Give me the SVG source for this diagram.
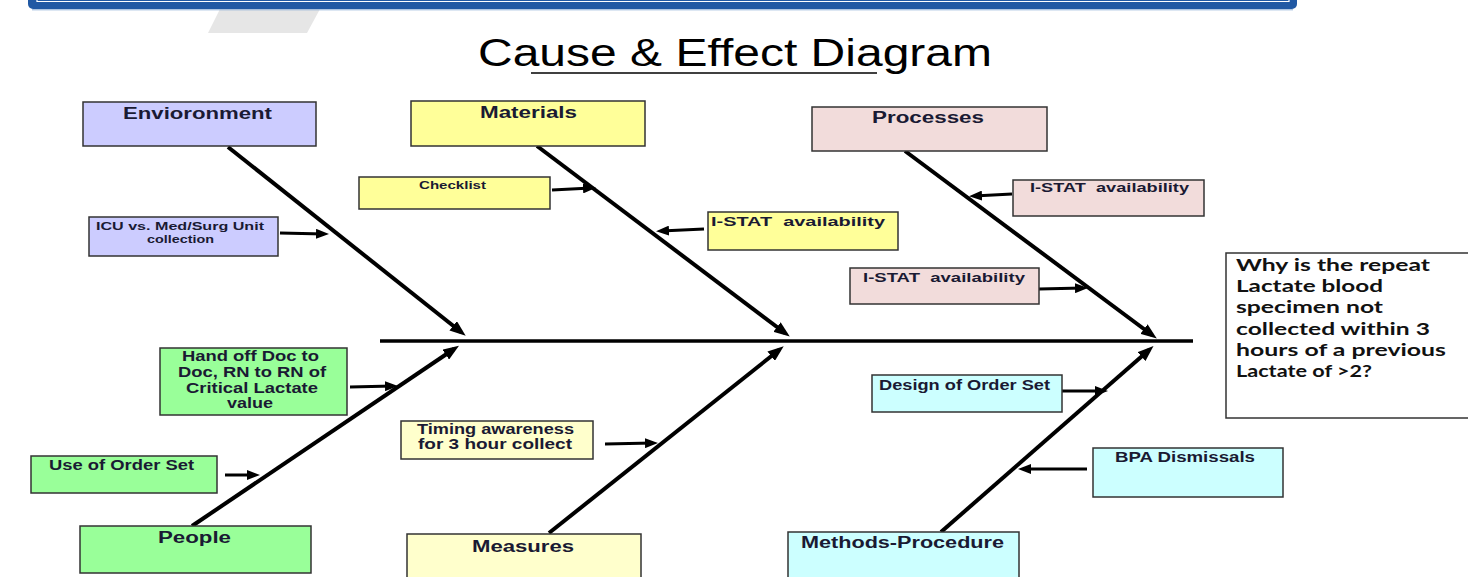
<svg xmlns="http://www.w3.org/2000/svg" width="1468" height="577" viewBox="0 0 1468 577">
<style>
  .box{stroke:#333;stroke-width:1.5}
  .env{fill:#ccccff}
  .mat{fill:#ffff99}
  .pro{fill:#f2dcdb}
  .peo{fill:#99ff99}
  .mea{fill:#ffffcc}
  .met{fill:#ccffff}
  .lbl{font-family:"Liberation Sans",Arial,sans-serif;font-weight:bold;fill:#1a1a33}
  .eff{font-family:Lato,"Liberation Sans",sans-serif;font-weight:bold;fill:#111;font-size:17px}
  .main{stroke:#000;stroke-width:4;fill:none;marker-end:url(#mh)}
  .sub{stroke:#000;stroke-width:3;fill:none;marker-end:url(#sh)}
</style>
<defs>
  <marker id="mh" markerUnits="userSpaceOnUse" markerWidth="16" markerHeight="12" refX="10" refY="6" orient="auto">
    <path d="M0,0 L16,6 L0,12 z" fill="#000"/>
  </marker>
  <marker id="sh" markerUnits="userSpaceOnUse" markerWidth="13" markerHeight="10" refX="8" refY="5" orient="auto">
    <path d="M0,0 L13,5 L0,10 z" fill="#000"/>
  </marker>
</defs>
<rect width="1468" height="577" fill="#fff"/>
<!-- banner -->
<polygon points="220,9 320,9 307,33 208,33" fill="#e6e6e6"/>
<rect x="28" y="-12" width="1269" height="21" rx="5" fill="#2159a4"/>
<path d="M37,-2 V1.5 H1289 V-2" fill="none" stroke="#fff" stroke-width="1.2"/>
<line x1="32" y1="9.8" x2="1293" y2="9.8" stroke="#8eaed6" stroke-width="1"/>
<!-- title -->
<text x="478" y="66" font-family="Liberation Sans,Arial,sans-serif" font-size="38" fill="#000" textLength="514" lengthAdjust="spacingAndGlyphs">Cause &amp; Effect Diagram</text>
<line x1="531" y1="73" x2="877" y2="73" stroke="#000" stroke-width="1.5"/>

<g id="connectors">
  <line x1="380" y1="341" x2="1193" y2="341" stroke="#000" stroke-width="3.5"/>
  <line class="main" x1="228" y1="147" x2="461" y2="332"/>
  <line class="main" x1="537" y1="146" x2="785" y2="333"/>
  <line class="main" x1="905" y1="151" x2="1152" y2="335"/>
  <line class="main" x1="192" y1="526" x2="454" y2="349"/>
  <line class="main" x1="549" y1="533" x2="779" y2="350"/>
  <line class="main" x1="941" y1="532" x2="1149" y2="350"/>
  <line class="sub" x1="280" y1="233" x2="324" y2="234"/>
  <line class="sub" x1="552" y1="190" x2="591" y2="188"/>
  <line class="sub" x1="704" y1="229" x2="661" y2="231"/>
  <line class="sub" x1="1012" y1="194" x2="974" y2="196"/>
  <line class="sub" x1="1039" y1="289" x2="1083" y2="288"/>
  <line class="sub" x1="350" y1="387" x2="393" y2="386"/>
  <line class="sub" x1="225" y1="475" x2="255" y2="475"/>
  <line class="sub" x1="605" y1="444" x2="653" y2="443"/>
  <line class="sub" x1="1062" y1="391" x2="1103" y2="391"/>
  <line class="sub" x1="1087" y1="469" x2="1023" y2="469"/>
</g>

<g id="environment"><rect class="box env" x="83" y="102" width="233" height="44"/>
  <text class="lbl" x="123" y="119" font-size="16" textLength="149" lengthAdjust="spacingAndGlyphs">Envioronment</text></g>
<g id="materials"><rect class="box mat" x="411" y="101" width="234" height="45"/>
  <text class="lbl" x="480" y="118" font-size="16" textLength="97" lengthAdjust="spacingAndGlyphs">Materials</text></g>
<g id="processes"><rect class="box pro" x="812" y="107" width="235" height="44"/>
  <text class="lbl" x="872" y="123" font-size="16" textLength="112" lengthAdjust="spacingAndGlyphs">Processes</text></g>
<g id="people"><rect class="box peo" x="80" y="526" width="231" height="47"/>
  <text class="lbl" x="158" y="543" font-size="16" textLength="73" lengthAdjust="spacingAndGlyphs">People</text></g>
<g id="measures"><rect class="box mea" x="407" y="534" width="234" height="50"/>
  <text class="lbl" x="472" y="552" font-size="16" textLength="102" lengthAdjust="spacingAndGlyphs">Measures</text></g>
<g id="methods"><rect class="box met" x="788" y="532" width="231" height="50"/>
  <text class="lbl" x="801" y="548" font-size="16" textLength="203" lengthAdjust="spacingAndGlyphs">Methods-Procedure</text></g>

<g id="icu"><rect class="box env" x="89" y="217" width="189" height="39"/>
  <text class="lbl" x="96" y="230" font-size="11.5" textLength="168" lengthAdjust="spacingAndGlyphs">ICU vs. Med/Surg Unit</text>
  <text class="lbl" x="147" y="243" font-size="11.5" textLength="67" lengthAdjust="spacingAndGlyphs">collection</text></g>
<g id="checklist"><rect class="box mat" x="359" y="177" width="191" height="32"/>
  <text class="lbl" x="419" y="189" font-size="11" textLength="67" lengthAdjust="spacingAndGlyphs">Checklist</text></g>
<g id="istat-mat"><rect class="box mat" x="708" y="212" width="190" height="38"/>
  <text class="lbl" x="711" y="226" font-size="13.5" textLength="174" lengthAdjust="spacingAndGlyphs" xml:space="preserve">I-STAT  availability</text></g>
<g id="istat-pro1"><rect class="box pro" x="1013" y="180" width="191" height="36"/>
  <text class="lbl" x="1030" y="192" font-size="13.5" textLength="159" lengthAdjust="spacingAndGlyphs" xml:space="preserve">I-STAT  availability</text></g>
<g id="istat-pro2"><rect class="box pro" x="850" y="268" width="189" height="36"/>
  <text class="lbl" x="863" y="282" font-size="13.5" textLength="162" lengthAdjust="spacingAndGlyphs" xml:space="preserve">I-STAT  availability</text></g>
<g id="handoff"><rect class="box peo" x="160" y="348" width="187" height="67"/>
  <text class="lbl" x="182" y="361" font-size="14.5" textLength="137" lengthAdjust="spacingAndGlyphs">Hand off Doc to</text>
  <text class="lbl" x="178" y="377" font-size="14.5" textLength="148" lengthAdjust="spacingAndGlyphs">Doc, RN to RN of</text>
  <text class="lbl" x="186" y="393" font-size="14.5" textLength="132" lengthAdjust="spacingAndGlyphs">Critical Lactate</text>
  <text class="lbl" x="227" y="408" font-size="14.5" textLength="46" lengthAdjust="spacingAndGlyphs">value</text></g>
<g id="useorder"><rect class="box peo" x="31" y="456" width="186" height="37"/>
  <text class="lbl" x="49" y="470" font-size="14.5" textLength="145" lengthAdjust="spacingAndGlyphs">Use of Order Set</text></g>
<g id="timing"><rect class="box mea" x="401" y="421" width="192" height="38"/>
  <text class="lbl" x="417" y="434" font-size="14" textLength="157" lengthAdjust="spacingAndGlyphs">Timing awareness</text>
  <text class="lbl" x="418" y="449" font-size="14" textLength="154" lengthAdjust="spacingAndGlyphs">for 3 hour collect</text></g>
<g id="design"><rect class="box met" x="872" y="375" width="190" height="37"/>
  <text class="lbl" x="879" y="390" font-size="14.5" textLength="171" lengthAdjust="spacingAndGlyphs">Design of Order Set</text></g>
<g id="bpa"><rect class="box met" x="1093" y="448" width="190" height="49"/>
  <text class="lbl" x="1115" y="462" font-size="14" textLength="140" lengthAdjust="spacingAndGlyphs">BPA Dismissals</text></g>

<g id="effect"><rect x="1226" y="253" width="246" height="165" fill="#fff" stroke="#333" stroke-width="1.5"/>
  <text class="eff" x="1236" y="271" textLength="194" lengthAdjust="spacingAndGlyphs">Why is the repeat</text>
  <text class="eff" x="1236" y="292" textLength="147" lengthAdjust="spacingAndGlyphs">Lactate blood</text>
  <text class="eff" x="1236" y="313" textLength="147" lengthAdjust="spacingAndGlyphs">specimen not</text>
  <text class="eff" x="1236" y="335" textLength="194" lengthAdjust="spacingAndGlyphs">collected within 3</text>
  <text class="eff" x="1236" y="356" textLength="210" lengthAdjust="spacingAndGlyphs">hours of a previous</text>
  <text class="eff" x="1236" y="377" textLength="136" lengthAdjust="spacingAndGlyphs">Lactate of &gt;2?</text></g>
</svg>
